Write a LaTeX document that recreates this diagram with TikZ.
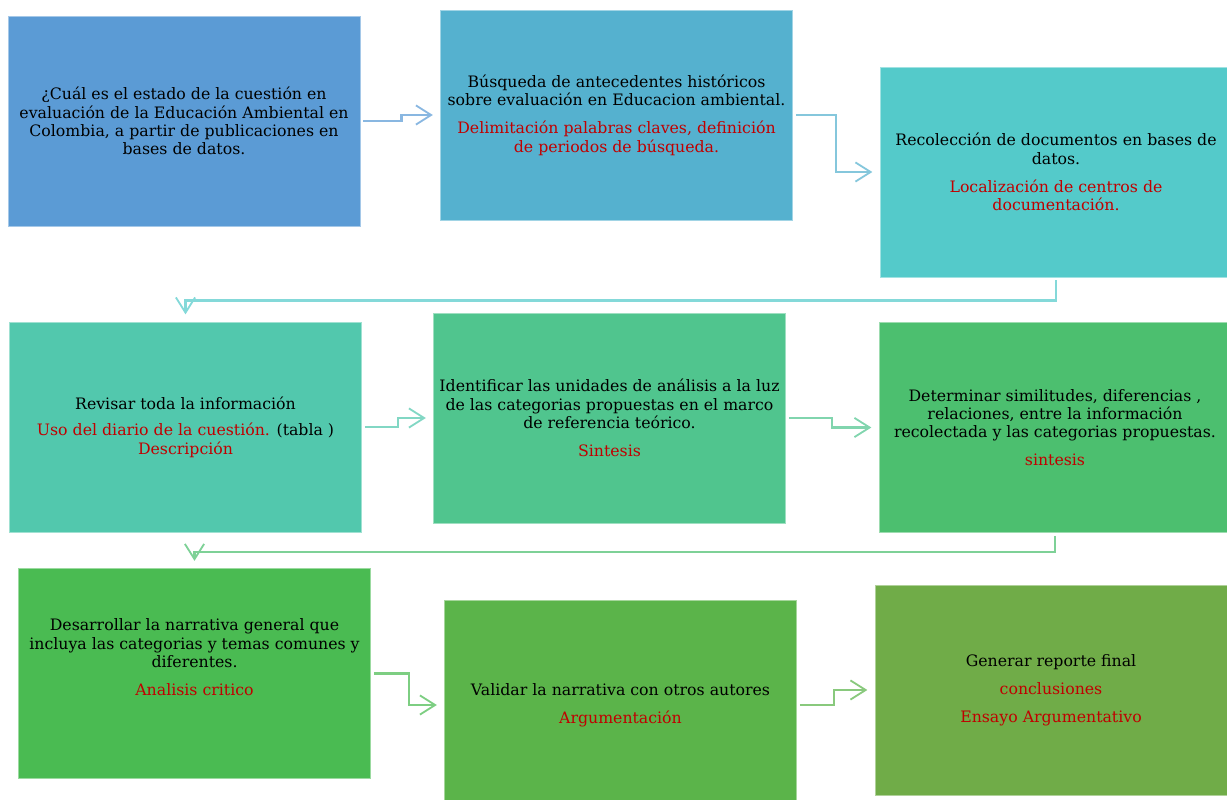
\documentclass[tikz,border=0pt]{standalone}
\usepackage{fontspec}
\setmainfont{DejaVu Serif}
\usepackage{xcolor}
\usepackage{tikz}
\usetikzlibrary{arrows.meta}
\definecolor{FlBlue}{HTML}{5B9BD5}
\definecolor{FlSky}{HTML}{55B1CF}
\definecolor{FlCyan}{HTML}{54CACA}
\definecolor{FlTeal}{HTML}{52C8AD}
\definecolor{FlMint}{HTML}{50C58E}
\definecolor{FlJade}{HTML}{4CBF6F}
\definecolor{FlGreen}{HTML}{4ABB52}
\definecolor{FlLeaf}{HTML}{5BB44A}
\definecolor{FlOlive}{HTML}{70AC48}
\definecolor{FlRed}{HTML}{C00000}
\newcommand{\rd}[1]{\textcolor{FlRed}{#1}}

\begin{document}
\begin{tikzpicture}[x=0.025cm,y=-0.025cm,
  stepbox/.style={draw=#1!55!white,fill=#1,line width=0.6pt,minimum width=8.8cm,minimum height=5.25cm,
    align=center,inner sep=2pt,font=\fontsize{11.2}{13}\selectfont},
  link/.style={draw=#1!72!white,line width=1.6pt,-{Straight Barb[length=3.8mm,width=4.8mm,line width=1.3pt]},
    shorten <=2pt,shorten >=0.18cm}]
\path[use as bounding box] (0,0) rectangle (1227,800);
\clip (0,0) rectangle (1227,800);
\node[stepbox=FlBlue] (quest) at (184,121) {¿Cuál es el estado de la cuestión en\\evaluación de la Educación Ambiental en\\Colombia, a partir de publicaciones en\\bases de datos.};
\node[stepbox=FlSky] (busq) at (616.5,115) {Búsqueda  de antecedentes históricos\\sobre evaluación en Educacion ambiental.\\[7pt]\rd{Delimitación palabras claves, definición}\\\rd{de periodos de búsqueda.}};
\node[stepbox=FlCyan] (recol) at (1056,172) {Recolección de documentos  en bases de\\datos.\\[7pt]\rd{Localización de centros de}\\\rd{documentación.}};
\node[stepbox=FlTeal] (revis) at (185.5,427) {Revisar toda la información\\[6pt]\rd{Uso del diario de la cuestión.} (tabla )\\\rd{Descripción}};
\node[stepbox=FlMint] (ident) at (609.5,418) {Identificar las unidades de análisis a la luz\\de las categorias  propuestas en el marco\\de referencia teórico.\\[7pt]\rd{Sintesis}};
\node[stepbox=FlJade] (deter) at (1055,427.5) {Determinar similitudes, diferencias ,\\relaciones, entre la información\\recolectada y las categorias propuestas.\\[7pt]\rd{sintesis}};
\node[stepbox=FlGreen] (desar) at (194.5,673.5) {Desarrollar  la narrativa  general que\\incluya las categorias  y temas comunes y\\diferentes.\\[7pt]\rd{Analisis critico}\\[10pt]};
\node[stepbox=FlLeaf] (valid) at (620.5,705) {Validar la narrativa con otros autores\\[7pt]\rd{Argumentación}};
\node[stepbox=FlOlive] (gener) at (1051,690) {Generar reporte final\\[7pt]\rd{conclusiones}\\[7pt]\rd{Ensayo Argumentativo}};
\draw[link=FlBlue] (quest.east) -- ++(41,0) |- (busq.west);
\draw[link=FlSky] (busq.east) -- ++(43,0) |- (recol.west);
\draw[link=FlCyan] (recol.south) -- ++(0,23) -| (revis.north);
\draw[link=FlTeal] (revis.east) -- ++(36,0) |- (ident.west);
\draw[link=FlMint] (ident.east) -- ++(46,0) |- (deter.west);
\draw[link=FlJade] (deter.south) -- ++(0,19) -| (desar.north);
\draw[link=FlGreen] (desar.east) -- ++(38,0) |- (valid.west);
\draw[link=FlLeaf] (valid.east) -- ++(37,0) |- (gener.west);
\end{tikzpicture}
\end{document}
